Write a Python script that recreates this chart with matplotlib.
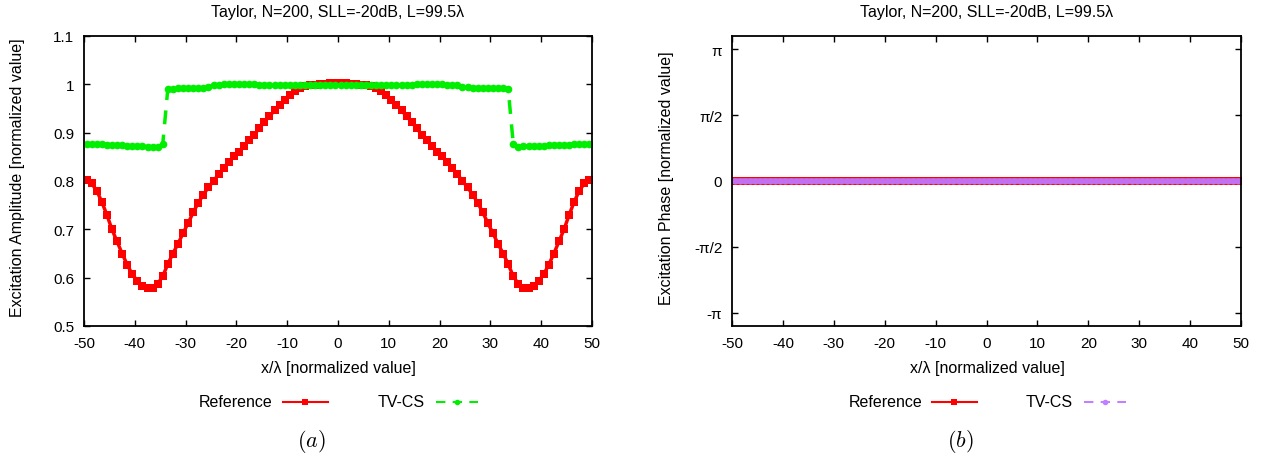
import numpy as np
import matplotlib
matplotlib.use("Agg")
import matplotlib.pyplot as plt
from matplotlib.lines import Line2D

plt.rcParams['font.family'] = ['Liberation Sans', 'DejaVu Sans']
plt.rcParams['mathtext.fontset'] = 'cm'
plt.rcParams['axes.unicode_minus'] = False

# element positions (every other element of the 200-element array)
x_pos = np.arange(-49.5, 50, 1.0)

# amplitude, reference Taylor distribution
amp_ref = [
    0.802, 0.795, 0.780, 0.757, 0.730, 0.700, 0.675, 0.650, 0.627, 0.607,
    0.593, 0.583, 0.578, 0.579, 0.587, 0.603, 0.628, 0.650, 0.670, 0.692,
    0.713, 0.735, 0.755, 0.772, 0.787, 0.800, 0.814, 0.827, 0.840, 0.851,
    0.861, 0.872, 0.884, 0.896, 0.909, 0.922, 0.934, 0.946, 0.957, 0.968,
    0.978, 0.986, 0.992, 0.996, 0.998, 0.999, 1.000, 1.001, 1.002, 1.002,
    1.002, 1.002, 1.001, 1.000, 0.999, 0.998, 0.996, 0.992, 0.986, 0.978,
    0.968, 0.957, 0.946, 0.934, 0.922, 0.909, 0.896, 0.884, 0.872, 0.861,
    0.851, 0.840, 0.827, 0.814, 0.800, 0.787, 0.772, 0.755, 0.735, 0.713,
    0.692, 0.670, 0.650, 0.628, 0.603, 0.587, 0.579, 0.578, 0.583, 0.593,
    0.607, 0.627, 0.650, 0.675, 0.700, 0.730, 0.757, 0.780, 0.795, 0.802,
]

# amplitude, TV-CS retrieved
amp_tvcs = [
    0.877, 0.877, 0.876, 0.876, 0.875, 0.875, 0.874, 0.874, 0.873, 0.873,
    0.872, 0.872, 0.871, 0.871, 0.870, 0.876, 0.991, 0.991, 0.992, 0.992,
    0.992, 0.993, 0.993, 0.993, 0.994, 0.999, 0.999, 1.000, 1.000, 1.000,
    1.000, 1.000, 1.000, 1.000, 0.999, 0.999, 0.999, 0.999, 0.999, 0.999,
    0.999, 0.999, 0.999, 0.999, 0.999, 0.999, 0.999, 0.999, 0.999, 0.999,
    0.999, 0.999, 0.999, 0.999, 0.999, 0.999, 0.999, 0.999, 0.999, 0.999,
    0.999, 0.999, 0.999, 0.999, 0.999, 1.000, 1.000, 1.000, 1.000, 1.000,
    1.000, 0.999, 0.999, 0.999, 0.994, 0.994, 0.993, 0.993, 0.993, 0.992,
    0.992, 0.992, 0.992, 0.991, 0.877, 0.871, 0.872, 0.872, 0.873, 0.873,
    0.873, 0.874, 0.874, 0.875, 0.875, 0.875, 0.876, 0.876, 0.876, 0.877,
]

# phase (all zero)
phase_ref = [0.0] * len(x_pos)
phase_tvcs = [0.0] * len(x_pos)

title = 'Taylor, N=200, SLL=-20dB, L=99.5λ'
xlab = 'x/λ [normalized value]'

W, H = 1262, 464
fig = plt.figure(figsize=(W / 100, H / 100), dpi=100)


def fx(px):
    return px / W


def fy(py):
    return 1 - py / H


def style_axes(ax):
    for s in ax.spines.values():
        s.set_linewidth(1.3)
    ax.tick_params(direction='in', length=4, width=1, top=True, right=True,
                   labelsize=11, pad=7)
    ax.set_xlim(-50, 50)
    ax.set_xticks(np.arange(-50, 51, 10))


ax1 = fig.add_axes([fx(84), fy(327), fx(508), 290 / H])
ax2 = fig.add_axes([fx(732), fy(327), fx(509), 290 / H])

# (a) amplitude
ax1.plot(x_pos, amp_ref, color='#ff0000', lw=2.5, marker='s', ms=6.3, mew=0)
ax1.plot(x_pos, amp_tvcs, color='#00ee00', lw=2.5, ls=(0, (4, 3)),
         marker='o', ms=5.5, mew=0)
style_axes(ax1)
ax1.set_ylim(0.5, 1.1)
ax1.set_yticks([0.5, 0.6, 0.7, 0.8, 0.9, 1.0, 1.1])
ax1.set_yticklabels(['0.5', '0.6', '0.7', '0.8', '0.9', '1', '1.1'])

# (b) phase
ax2.plot(x_pos, phase_ref, color='#ff0000', lw=2, marker='s', ms=6, mew=0)
ax2.plot(x_pos, phase_tvcs, color='#c070f0', lw=4, ls='-',
         marker='o', ms=4.5, mew=0)
style_axes(ax2)
ax2.set_ylim(-1.1 * np.pi, 1.1 * np.pi)
ax2.set_yticks([-np.pi, -np.pi / 2, 0, np.pi / 2, np.pi])
ax2.set_yticklabels(['-π', '-π/2', '0', 'π/2', 'π'])

# titles, labels
fs = 11.5
for cx in (338, 987):
    fig.text(fx(cx), fy(13), title, ha='center', va='center', fontsize=fs)
    fig.text(fx(cx), fy(368), xlab, ha='center', va='center', fontsize=fs)
fig.text(fx(18), fy(178), 'Excitation Amplitude [normalized value]',
         rotation=90, ha='center', va='center', fontsize=fs)
fig.text(fx(666), fy(178), 'Excitation Phase [normalized value]',
         rotation=90, ha='center', va='center', fontsize=fs)

# legends below each panel
legend_rows = [
    (273, 425, '#00ee00'),
    (922, 1073, '#c080ff'),
]
ly = fy(403)
for ref_end, tv_end, tv_col in legend_rows:
    fig.text(fx(ref_end), ly, 'Reference', ha='right', va='center', fontsize=fs)
    fig.add_artist(Line2D([fx(ref_end + 10), fx(ref_end + 55)], [ly, ly],
                          transform=fig.transFigure, color='#ff0000', lw=1.5))
    fig.add_artist(Line2D([fx(ref_end + 32)], [ly], transform=fig.transFigure,
                          color='#ff0000', marker='s', ms=5, mew=0))
    fig.text(fx(tv_end), ly, 'TV-CS', ha='right', va='center', fontsize=fs)
    fig.add_artist(Line2D([fx(tv_end + 11), fx(tv_end + 53)], [ly, ly],
                          transform=fig.transFigure, color=tv_col, lw=1.5,
                          ls=(0, (4.5, 3.5))))
    fig.add_artist(Line2D([fx(tv_end + 32)], [ly], transform=fig.transFigure,
                          color=tv_col, marker='o', ms=4, mew=0))

fig.text(fx(311), fy(442), r'$(a)$', ha='center', va='center', fontsize=16)
fig.text(fx(960), fy(442), r'$(b)$', ha='center', va='center', fontsize=16)

fig.savefig('out.png', dpi=100)
